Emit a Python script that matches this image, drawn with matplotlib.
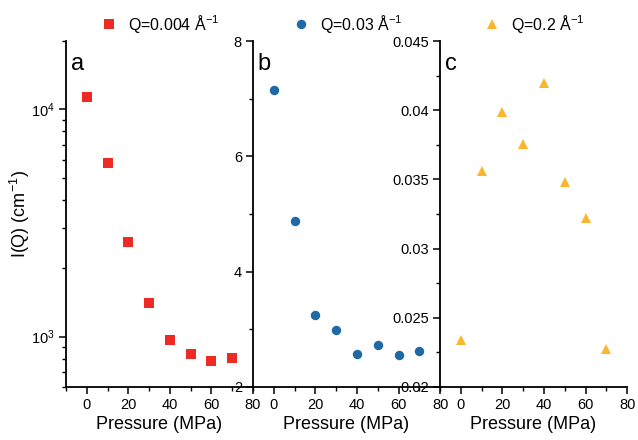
import numpy as np
import matplotlib
matplotlib.use("Agg")
import matplotlib.pyplot as plt
from matplotlib.ticker import MultipleLocator, LogLocator, NullFormatter

plt.rcParams['font.family'] = ['Liberation Sans', 'DejaVu Sans']
plt.rcParams['mathtext.fontset'] = 'custom'
plt.rcParams['mathtext.rm'] = 'Liberation Sans'

# data
pressure = [0, 10, 20, 30, 40, 50, 60, 70]
i_a = [11300, 5790, 2600, 1400, 967, 834, 782, 803]
i_b = [7.15, 4.88, 3.24, 2.99, 2.565, 2.73, 2.56, 2.63]
i_c = [0.02339, 0.03563, 0.0399, 0.03757, 0.04197, 0.03481, 0.03221, 0.02274]

labels = ["Q=0.004 Å$^{-1}$", "Q=0.03 Å$^{-1}$", "Q=0.2 Å$^{-1}$"]
letters = ["a", "b", "c"]
colors = ["#ee2a24", "#1f6aa5", "#fcb52c"]
markers = ["s", "o", "^"]
sizes = [6.5, 6.8, 7.5]

fig = plt.figure(figsize=(6.38, 4.4), dpi=100)
lefts = [0.1034, 0.3966, 0.6897]
w = 0.2932
axes = [fig.add_axes([l, 0.1205, w, 0.7863]) for l in lefts]

series = [i_a, i_b, i_c]
for k, ax in enumerate(axes):
    ax.plot(pressure, series[k], linestyle='none', marker=markers[k], color=colors[k],
            markersize=sizes[k], markeredgewidth=0, label=labels[k])
    ax.set_xlim(-10, 80)
    ax.xaxis.set_major_locator(MultipleLocator(20))
    ax.xaxis.set_minor_locator(MultipleLocator(10))
    ax.set_xlabel("Pressure (MPa)", fontsize=13, labelpad=3)
    for s in ['top', 'right']:
        ax.spines[s].set_visible(False)
    for s in ['left', 'bottom']:
        ax.spines[s].set_linewidth(1.3)
    ax.tick_params(which='major', direction='out', length=5, width=1.1, labelsize=10.5, pad=3)
    ax.tick_params(which='minor', direction='out', length=3, width=1.0)
    ax.patch.set_alpha(0)
    ax.text(0.025, 0.965, letters[k], transform=ax.transAxes, fontsize=17, va='top', ha='left')
    ax.legend(loc='lower center', bbox_to_anchor=(0.5, 0.985), frameon=False, fontsize=11.5,
              handletextpad=0.6, handlelength=1.2, borderaxespad=0.3)

ax = axes[0]
ax.set_yscale('log')
ax.set_ylim(600, 20000)
ax.yaxis.set_major_locator(LogLocator(base=10))
ax.yaxis.set_minor_locator(LogLocator(base=10, subs=np.arange(2, 10)))
ax.yaxis.set_minor_formatter(NullFormatter())
ax.set_ylabel("I(Q) (cm$^{-1}$)", fontsize=13, labelpad=-1)

ax = axes[1]
ax.set_ylim(2, 8)
ax.yaxis.set_major_locator(MultipleLocator(2))
ax.yaxis.set_minor_locator(MultipleLocator(1))

ax = axes[2]
ax.set_ylim(0.02, 0.045)
ax.yaxis.set_major_locator(MultipleLocator(0.005))
ax.yaxis.set_minor_locator(MultipleLocator(0.0025))
ax.set_yticks([0.02, 0.025, 0.03, 0.035, 0.04, 0.045])
ax.set_yticklabels(["0.02", "0.025", "0.03", "0.035", "0.04", "0.045"])

fig.savefig("out.png", dpi=100)
